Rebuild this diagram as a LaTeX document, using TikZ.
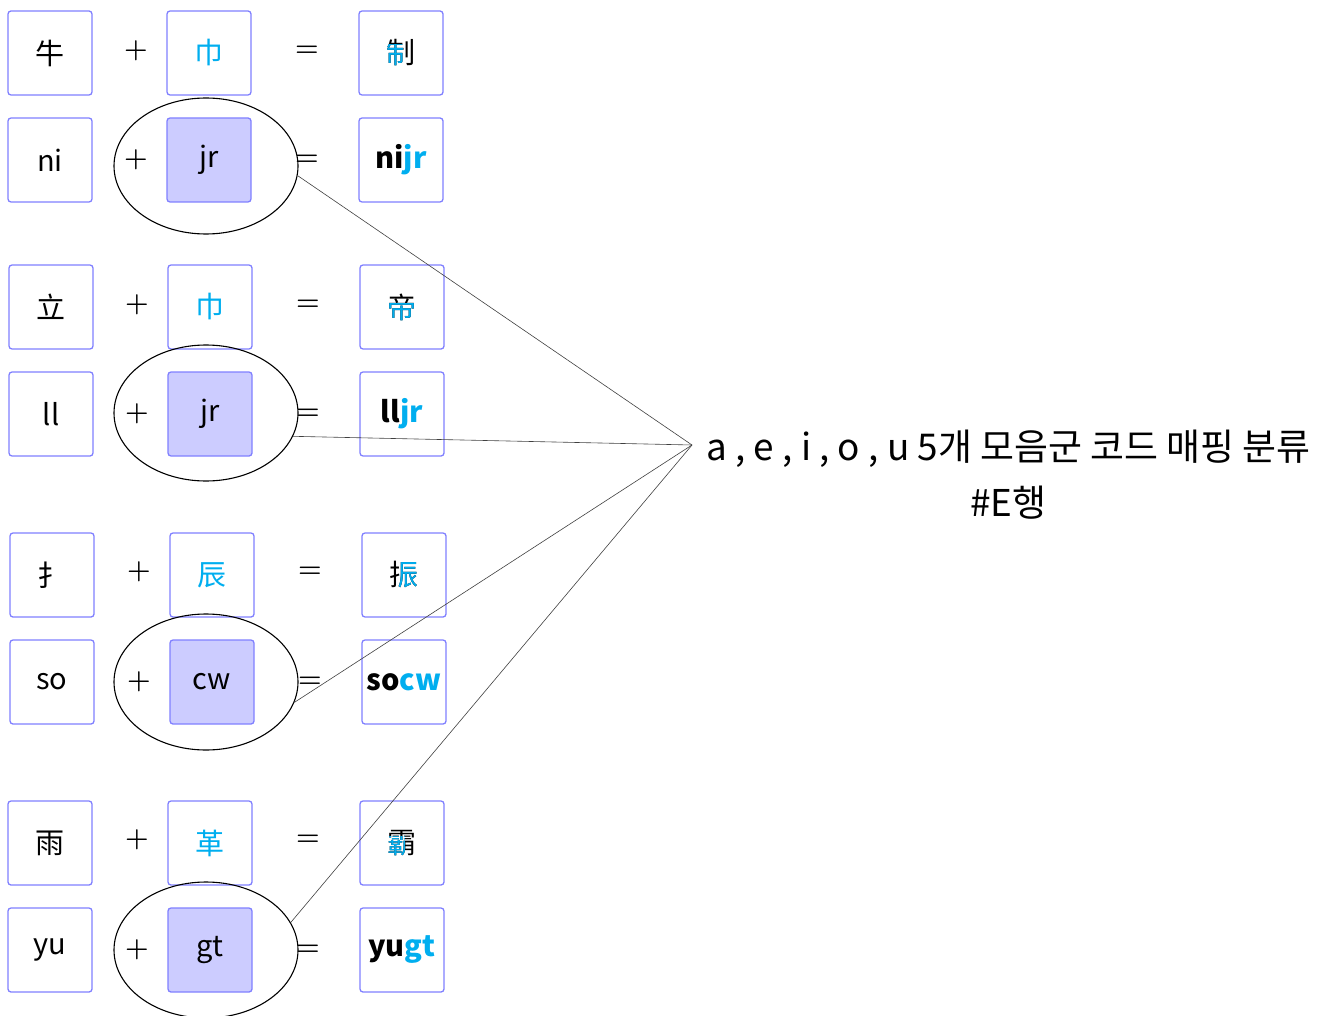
\documentclass[tikz,border=0pt]{standalone}
\usepackage{fontspec}
\newfontfamily\cjkfont{Noto Sans CJK SC}
\newfontfamily\kofont{Noto Sans CJK KR}
\usetikzlibrary{shapes.geometric, positioning, calc}
\definecolor{boxblue}{RGB}{128,128,255}
\definecolor{boxfill}{RGB}{204,204,255}
\definecolor{radcyan}{RGB}{0,174,239}
\tikzset{
	partbox/.style={rectangle, draw=boxblue, line width=1.3pt, rounded corners=3pt, minimum size=84pt, inner sep=0pt, font=\cjkfont\fontsize{29}{32}\selectfont},
	codebox/.style={partbox, fill=boxfill},
	resultbox/.style={partbox, font=\cjkfont\bfseries\fontsize{29}{32}\selectfont},
	glyph/.style={inner sep=0pt, font=\cjkfont\fontsize{29}{32}\selectfont},
	opsign/.style={inner sep=0pt, font=\rmfamily\bfseries\fontsize{27}{30}\selectfont},
	hilite/.style={ellipse, draw, line width=1.1pt, minimum width=184pt, minimum height=136pt, inner sep=0pt},
	tieline/.style={draw=black!75, line width=0.6pt}
}

\begin{document}
\begin{tikzpicture}[x=1pt, y=-1pt]
	\useasboundingbox (0,0) rectangle (1324,1016);

	% --- Group 1: 牛 + 巾 = 制 ---
	\node[partbox] (a1) at (50,53) {牛};
	\node[partbox, text=radcyan] (b1) at (209,53) {巾};
	\node[partbox] (c1) at (401,53) {制};
	\node[opsign] (plus1) at (136,51) {+};
	\node[opsign] (eq1) at (307,51) {=};
	\node[partbox, below=21.7pt of a1] (a2) {ni};
	\node[codebox, below=21.7pt of b1] (b2) {jr};
	\node[resultbox, below=21.7pt of c1] (c2) {ni\textcolor{radcyan}{jr}};
	\node[opsign] (plus2) at (plus1 |- b2) {+};
	\node[opsign] (eq2) at (eq1 |- b2) {=};
	\node[hilite] (ell1) at ($(b2)+(-3,6)$) {};
	\begin{scope}
		\clip ($(c1)+(-21,-8)$) rectangle ($(c1)+(1,17)$);
		\node[glyph, text=radcyan] (c1tint) at (c1) {制};
	\end{scope}

	% --- Group 2: 立 + 巾 = 帝 ---
	\node[partbox] (a3) at (51,307) {立};
	\node[partbox, text=radcyan] (b3) at (210,307) {巾};
	\node[partbox] (c3) at (402,307) {帝};
	\node[opsign] (plus3) at (137,305) {+};
	\node[opsign] (eq3) at (308,305) {=};
	\node[partbox, below=21.7pt of a3] (a4) {ll};
	\node[codebox, below=21.7pt of b3] (b4) {jr};
	\node[resultbox, below=21.7pt of c3] (c4) {ll\textcolor{radcyan}{jr}};
	\node[opsign] (plus4) at (plus3 |- b4) {+};
	\node[opsign] (eq4) at (eq3 |- b4) {=};
	\node[hilite] (ell2) at ($(b4)+(-4,-1)$) {};
	\begin{scope}
		\clip ($(c3)+(-21,-4)$) rectangle ($(c3)+(21,17)$);
		\node[glyph, text=radcyan] (c3tint) at (c3) {帝};
	\end{scope}

	% --- Group 3: 扌 + 辰 = 振 ---
	\node[partbox] (a5) at (52,575) {扌};
	\node[partbox, text=radcyan] (b5) at (212,575) {辰};
	\node[partbox] (c5) at (404,575) {振};
	\node[opsign] (plus5) at (139,572) {+};
	\node[opsign] (eq5) at (310,572) {=};
	\node[partbox, below=21.7pt of a5] (a6) {so};
	\node[codebox, below=21.7pt of b5] (b6) {cw};
	\node[resultbox, below=21.7pt of c5] (c6) {so\textcolor{radcyan}{cw}};
	\node[opsign] (plus6) at (plus5 |- b6) {+};
	\node[opsign] (eq6) at (eq5 |- b6) {=};
	\node[hilite] (ell3) at ($(b6)+(-6,0)$) {};
	\begin{scope}
		\clip ($(c5)+(-5,-20)$) rectangle ($(c5)+(21,20)$);
		\node[glyph, text=radcyan] (c5tint) at (c5) {振};
	\end{scope}

	% --- Group 4: 雨 + 革 = 霸 ---
	\node[partbox] (a7) at (50,843) {雨};
	\node[partbox, text=radcyan] (b7) at (210,843) {革};
	\node[partbox] (c7) at (402,843) {霸};
	\node[opsign] (plus7) at (137,840) {+};
	\node[opsign] (eq7) at (308,840) {=};
	\node[partbox, below=21.7pt of a7] (a8) {yu};
	\node[codebox, below=21.7pt of b7] (b8) {gt};
	\node[resultbox, below=21.7pt of c7] (c8) {yu\textcolor{radcyan}{gt}};
	\node[opsign] (plus8) at (plus7 |- b8) {+};
	\node[opsign] (eq8) at (eq7 |- b8) {=};
	\node[hilite] (ell4) at ($(b8)+(-4,0)$) {};
	\begin{scope}
		\clip ($(c7)+(-21,-7)$) rectangle ($(c7)+(2,17)$);
		\node[glyph, text=radcyan] (c7tint) at (c7) {霸};
	\end{scope}

	% --- Note on the right and its connectors ---
	\coordinate (hub) at (692,445);
	\node[anchor=west, align=center, inner sep=0pt, font=\kofont\fontsize{36.9}{56}\selectfont] (vowelnote) at (706,475)
		{a , e , i , o , u 5개 모음군 코드 매핑 분류\\\#E행};

	\draw[tieline] (ell1.-6) -- (hub);
	\draw[tieline] (ell2.-15) -- (hub);
	\draw[tieline] (ell3.-13) -- (hub);
	\draw[tieline] (ell4.18) -- (hub);
\end{tikzpicture}
\end{document}
